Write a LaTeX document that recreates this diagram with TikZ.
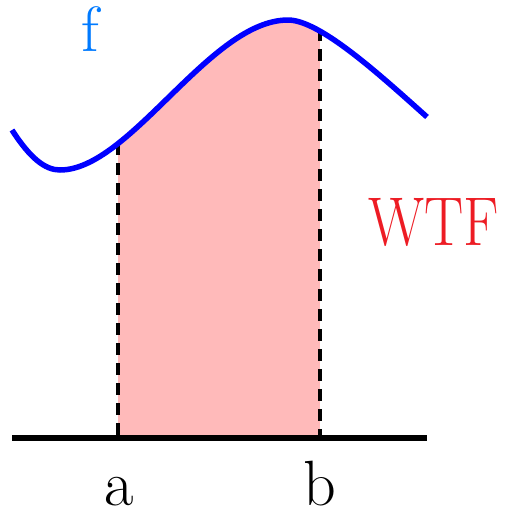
\documentclass[tikz,border=0pt]{standalone}
\definecolor{curveblue}{RGB}{0,0,255}
\definecolor{fblue}{RGB}{0,122,255}
\definecolor{wtfred}{RGB}{237,28,36}
\definecolor{areapink}{RGB}{255,186,186}
\begin{document}
\begin{tikzpicture}[x=1pt,y=-1pt,
  curvestyle/.style={draw=curveblue,line width=5.5pt},
  bound/.style={draw=black,line width=3.5pt,dash pattern=on 12pt off 8pt},
  axisline/.style={draw=black,line width=6pt},
  lbl/.style={inner sep=0pt,anchor=base,font=\fontsize{64}{64}\selectfont}]
\useasboundingbox (0,0) rectangle (511,512);
\def\curvepath{(12,130) .. controls (30,158) and (45,170) .. (60,170) .. controls (130,170) and (210,20) .. (288,20) .. controls (320,20) and (380,75) .. (427,117)}
\begin{scope}
  \clip \curvepath -- (427,438) -- (12,438) -- cycle;
  \fill[areapink] (118,0) rectangle (320,438);
\end{scope}
\coordinate (ta) at (118,143);
\coordinate (tb) at (320,29);
\coordinate (ba) at (118,438);
\coordinate (bb) at (320,438);
\coordinate (l) at (12,438);
\coordinate (r) at (427,438);
\draw[bound] (ta) -- (ba);
\draw[bound] (tb) -- (bb);
\draw[axisline] (l) -- (r);
\draw[curvestyle] \curvepath;
\node[lbl] (a) at (119,505) {a};
\node[lbl] (b) at (320,505) {b};
\node[lbl,text=fblue] (f) at (90,51) {f};
\node[inner sep=0pt,anchor=base,text=wtfred,xscale=0.85,font=\fontsize{69}{69}\selectfont] (w) at (434,245) {WTF};
\end{tikzpicture}
\end{document}
